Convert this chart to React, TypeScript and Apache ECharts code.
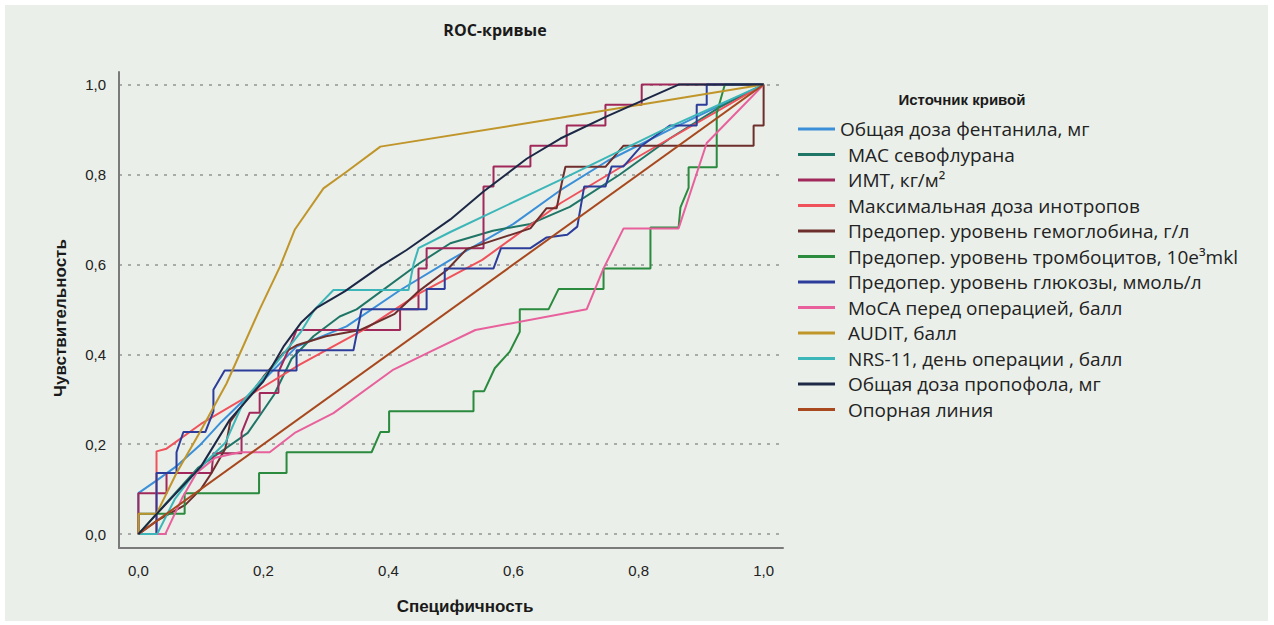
import React, { useEffect, useRef } from "react";
import * as echarts from "echarts";

const ticks = [0, 0.2, 0.4, 0.6, 0.8, 1.0];

const names = [
  "Общая доза фентанила, мг",
  "МАС севофлурана",
  "ИМТ, кг/м²",
  "Максимальная доза инотропов",
  "Предопер. уровень гемоглобина, г/л",
  "Предопер. уровень тромбоцитов, 10e³mkl",
  "Предопер. уровень глюкозы, ммоль/л",
  "МоСА перед операцией, балл",
  "AUDIT, балл",
  "NRS-11, день операции , балл",
  "Общая доза пропофола, мг",
  "Опорная линия",
];

const colors = [
  "#3a8fd8", "#1f7566", "#a0285a", "#f0525c", "#6e2e2c", "#2a8a3e",
  "#2c3c9a", "#e8609c", "#c0952a", "#3cb6b8", "#1c2846", "#a8481e",
];

const fentanyl = [[0,0],[0,0.091],[0.03,0.12],[0.06,0.15],[0.1,0.2],[0.133,0.25],[0.17,0.3],[0.253,0.417],[0.333,0.462],[0.419,0.543],[0.499,0.61],[0.6,0.69],[0.675,0.765],[0.75,0.83],[0.85,0.9],[1,1]];
const mac = [[0,0],[0,0.045],[0.029,0.045],[0.096,0.148],[0.175,0.225],[0.217,0.31],[0.245,0.39],[0.28,0.44],[0.322,0.484],[0.349,0.5],[0.45,0.603],[0.499,0.647],[0.567,0.675],[0.627,0.69],[0.69,0.728],[0.77,0.8],[0.85,0.88],[0.93,0.95],[1,1]];
const bmi = [[0,0],[0,0.091],[0.045,0.091],[0.045,0.136],[0.117,0.136],[0.12,0.18],[0.165,0.18],[0.165,0.225],[0.178,0.27],[0.194,0.27],[0.194,0.314],[0.224,0.314],[0.224,0.36],[0.24,0.41],[0.253,0.454],[0.4186,0.454],[0.4186,0.5],[0.448,0.5],[0.448,0.591],[0.461,0.591],[0.461,0.636],[0.552,0.636],[0.552,0.773],[0.568,0.773],[0.568,0.818],[0.627,0.818],[0.627,0.864],[0.685,0.864],[0.685,0.909],[0.747,0.909],[0.747,0.955],[0.805,0.955],[0.805,1],[1,1]];
const inotropes = [[0,0],[0.029,0],[0.029,0.184],[0.045,0.19],[0.1,0.245],[0.191,0.32],[0.258,0.377],[0.365,0.458],[0.45,0.536],[0.55,0.61],[0.675,0.736],[0.8,0.84],[1,1]];
const hemoglobin = [[0,0],[0.03,0.03],[0.075,0.065],[0.1,0.1],[0.117,0.136],[0.139,0.19],[0.147,0.25],[0.2,0.35],[0.232,0.403],[0.253,0.42],[0.3,0.44],[0.355,0.454],[0.41,0.49],[0.448,0.54],[0.493,0.587],[0.525,0.634],[0.627,0.68],[0.653,0.725],[0.669,0.725],[0.677,0.78],[0.683,0.817],[0.747,0.817],[0.776,0.864],[0.984,0.864],[0.984,0.909],[1,0.909],[1,1]];
const platelets = [[0,0],[0.029,0.045],[0.074,0.045],[0.074,0.091],[0.193,0.091],[0.193,0.136],[0.237,0.136],[0.237,0.182],[0.373,0.182],[0.387,0.227],[0.401,0.227],[0.401,0.273],[0.536,0.273],[0.536,0.318],[0.553,0.318],[0.57,0.369],[0.594,0.406],[0.61,0.45],[0.61,0.5],[0.656,0.5],[0.672,0.545],[0.744,0.545],[0.744,0.591],[0.819,0.591],[0.819,0.682],[0.864,0.682],[0.867,0.727],[0.88,0.77],[0.88,0.816],[0.925,0.816],[0.925,0.936],[0.938,1],[1,1]];
const glucose = [[0,0],[0.029,0],[0.029,0.136],[0.061,0.136],[0.061,0.182],[0.072,0.227],[0.107,0.227],[0.12,0.273],[0.12,0.321],[0.138,0.364],[0.253,0.364],[0.253,0.409],[0.344,0.409],[0.357,0.5],[0.461,0.5],[0.461,0.545],[0.49,0.545],[0.49,0.591],[0.568,0.591],[0.58,0.636],[0.627,0.636],[0.653,0.66],[0.686,0.666],[0.702,0.684],[0.713,0.773],[0.747,0.773],[0.757,0.818],[0.776,0.818],[0.805,0.864],[0.85,0.909],[0.893,0.909],[0.893,0.955],[0.909,0.955],[0.909,1],[1,1]];
const moca = [[0,0],[0.043,0],[0.07,0.08],[0.093,0.136],[0.123,0.17],[0.162,0.182],[0.21,0.182],[0.25,0.225],[0.312,0.269],[0.408,0.366],[0.467,0.406],[0.539,0.454],[0.717,0.5],[0.744,0.591],[0.776,0.68],[0.864,0.68],[0.909,0.87],[1,1]];
const audit = [[0,0],[0,0.045],[0.029,0.045],[0.061,0.136],[0.099,0.228],[0.141,0.335],[0.194,0.5],[0.2265,0.595],[0.25,0.677],[0.296,0.769],[0.333,0.806],[0.387,0.862],[0.675,0.926],[1,1]];
const nrs = [[0,0],[0.03,0],[0.058,0.077],[0.09,0.136],[0.139,0.203],[0.17,0.3],[0.22,0.38],[0.26,0.45],[0.282,0.5],[0.312,0.543],[0.432,0.543],[0.44,0.6],[0.448,0.636],[0.499,0.672],[0.675,0.788],[0.845,0.903],[1,1]];
const propofol = [[0,0],[0.026,0.04],[0.1,0.15],[0.146,0.254],[0.2,0.34],[0.232,0.417],[0.26,0.47],[0.285,0.503],[0.33,0.54],[0.3865,0.595],[0.429,0.632],[0.499,0.7],[0.552,0.762],[0.621,0.835],[0.675,0.88],[0.75,0.93],[0.864,1],[1,1]];
const reference = [[0,0],[1,1]];

const curves = [fentanyl, mac, bmi, inotropes, hemoglobin, platelets, glucose, moca, audit, nrs, propofol, reference];

const fmt = (v: number) => v.toFixed(1).replace(".", ",");
const narrow = "'Liberation Sans Narrow', 'Liberation Sans', Arial, sans-serif";
const sans = "'Open Sans', 'Noto Sans', sans-serif";

export default function App() {
  const ref = useRef<HTMLDivElement>(null);
  useEffect(() => {
    if (!ref.current) return;
    const chart = echarts.init(ref.current, null, { renderer: "svg" });
    chart.setOption({
      animation: false,
      backgroundColor: "#ffffff",
      graphic: [
        { type: "rect", z: -10, silent: true, shape: { x: 5, y: 5, width: 1263, height: 616 }, style: { fill: "#eaefe9" } },
      ],
      title: [
        { text: "ROC-кривые", left: 490, top: 17, textAlign: "center", textStyle: { fontFamily: sans, fontSize: 16, fontWeight: "bold", color: "#1a1a1a" } },
        { text: "Источник кривой", left: 957, top: 87, textAlign: "center", textStyle: { fontFamily: narrow, fontSize: 15, fontWeight: "bold", color: "#1a1a1a" } },
      ],
      legend: {
        orient: "vertical",
        left: 793,
        top: 114,
        itemWidth: 37,
        itemHeight: 3,
        itemGap: 5.5,
        icon: "rect",
        data: names.map((n, i) => ({ name: n, textStyle: { padding: [0, 0, 0, i === 0 ? 0 : 8] } })),
        textStyle: { fontFamily: sans, fontSize: 19, color: "#222", lineHeight: 20 },
      },
      grid: { left: 119, right: 491, top: 72, bottom: 77 },
      xAxis: {
        type: "value",
        min: -0.031,
        max: 1.031,
        name: "Специфичность",
        nameLocation: "middle",
        nameGap: 50,
        nameTextStyle: { fontFamily: narrow, fontSize: 17, fontWeight: "bold", color: "#1a1a1a", padding: [0, 0, 0, 28] },
        axisLine: { show: true, onZero: false, lineStyle: { color: "#7a7a7a", width: 2 } },
        axisTick: { show: false, customValues: ticks },
        axisLabel: { customValues: ticks, formatter: fmt, margin: 15, fontFamily: narrow, fontSize: 15, color: "#222" },
        splitLine: { show: false },
      },
      yAxis: {
        type: "value",
        min: -0.031,
        max: 1.028,
        name: "Чувствительность",
        nameLocation: "middle",
        nameGap: 50,
        nameTextStyle: { fontFamily: narrow, fontSize: 17, fontWeight: "bold", color: "#1a1a1a", padding: [0, 16, 0, 0] },
        axisLine: { show: true, onZero: false, lineStyle: { color: "#7a7a7a", width: 2 } },
        axisTick: { show: false, customValues: ticks },
        axisLabel: { customValues: ticks, formatter: fmt, margin: 13, fontFamily: narrow, fontSize: 15, color: "#222" },
        splitLine: { show: true, lineStyle: { color: "#a8aba7", width: 2, type: [3, 6] } },
      },
      series: curves.map((d, i) => ({
        type: "line",
        name: names[i],
        data: d,
        showSymbol: false,
        symbol: "none",
        color: colors[i],
        lineStyle: { width: 2, color: colors[i] },
        z: i === 10 ? 4 : 3,
      })),
    });
    return () => chart.dispose();
  }, []);
  return (
    <div style={{ position: "fixed", left: 0, top: 0, width: 1274, height: 625 }}>
      <div ref={ref} style={{ width: 1274, height: 625 }} />
    </div>
  );
}
